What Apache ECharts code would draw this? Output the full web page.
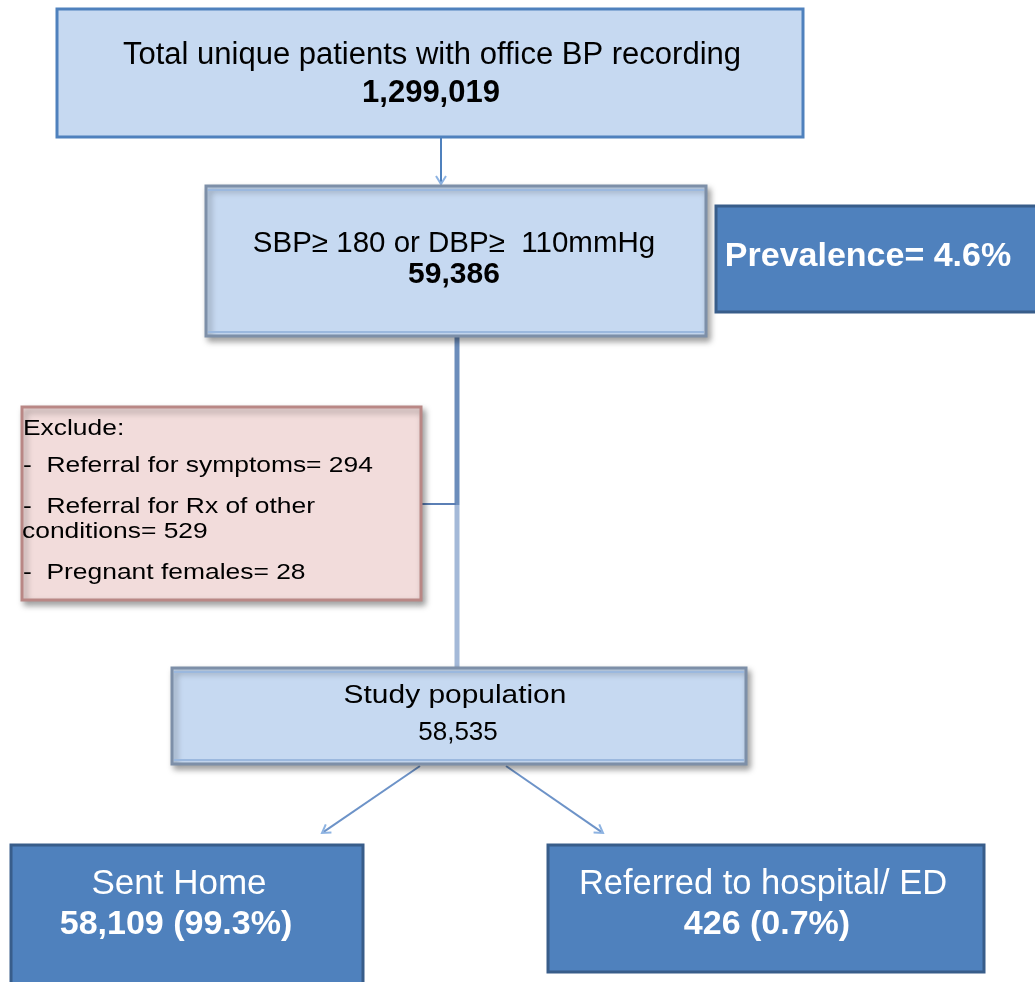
<!DOCTYPE html>
<html>
<head>
<meta charset="utf-8">
<script src="https://cdn.jsdelivr.net/npm/echarts@6/dist/echarts.min.js"></script>
<style>
  html, body { margin: 0; padding: 0; background: #fff; }
  #chart { width: 1035px; height: 982px; }
</style>
</head>
<body>
<div id="chart"></div>
<script>
// flow stages, top to bottom
const stageLabels = [
    'Total unique patients with office BP recording',
    'SBP\u2265 180 or DBP\u2265  110mmHg',
    'Study population',
    'Sent Home',
    'Referred to hospital/ ED'
];
const stageCounts = [1299019, 59386, 58535, 58109, 426];

// excluded between stage 2 and study population
const exclusionLabels = ['Referral for symptoms', 'Referral for Rx of other\nconditions', 'Pregnant females'];
const exclusionCounts = [294, 529, 28];

const FONT = '"Liberation Sans", Arial, sans-serif';
const LIGHT = '#c6d9f1', DARK = '#4f81bd', DARK_EDGE = '#385d8a';

let fmt = function (n) { return n.toLocaleString('en-US'); };
let pct = function (a, b) { return (a / b * 100).toFixed(1) + '%'; };

let rect = function (x, y, w, h, fill, stroke, shadow) {
    let style = { fill: fill, stroke: stroke, lineWidth: 3 };
    if (shadow) {
        style.shadowBlur = 6;
        style.shadowOffsetX = 3;
        style.shadowOffsetY = 4;
        style.shadowColor = 'rgba(0,0,0,0.35)';
    }
    return { type: 'rect', shape: { x: x, y: y, width: w, height: h }, style: style };
};

let txt = function (x, y, str, size, opts) {
    opts = opts || {};
    return {
        type: 'text', x: x, y: y,
        scaleX: opts.sx || 1,
        style: {
            text: str,
            fill: opts.color || '#000',
            font: (opts.bold ? 'bold ' : '') + size + 'px ' + FONT,
            textAlign: opts.align || 'center',
            textVerticalAlign: 'middle'
        },
        z: 10
    };
};

let line = function (x1, y1, x2, y2, color, width) {
    return { type: 'line', shape: { x1: x1, y1: y1, x2: x2, y2: y2 }, style: { stroke: color, lineWidth: width } };
};

// line with a small open arrow head at the end
let arrow = function (x1, y1, x2, y2, color, headColor) {
    let len = Math.sqrt((x2 - x1) * (x2 - x1) + (y2 - y1) * (y2 - y1));
    let dx = (x2 - x1) / len, dy = (y2 - y1) / len;
    let bx = x2 - dx * 8, by = y2 - dy * 8;
    return [
        line(x1, y1, x2 - dx * 2, y2 - dy * 2, color, 2),
        {
            type: 'polyline',
            shape: { points: [[bx - dy * 5, by + dx * 5], [x2, y2], [bx + dy * 5, by - dx * 5]] },
            style: { stroke: headColor, lineWidth: 2, fill: null }
        }
    ];
};

let graphic = [];

// connectors first so boxes cover their ends
graphic = graphic.concat(arrow(441, 138, 441, 184, DARK, '#8db3e2'));
graphic.push(line(457, 337, 457, 505, '#6c8dbb', 5));
graphic.push(line(457, 505, 457, 668, '#a4b9d8', 5));
graphic.push(line(421, 504, 456, 504, '#5b7fb5', 2));
graphic = graphic.concat(arrow(420, 766, 322, 833, '#6d93c8', '#8db3e2'));
graphic = graphic.concat(arrow(506, 766, 603, 833, '#6d93c8', '#8db3e2'));

// stage 1
graphic.push(rect(57, 9, 746, 128, LIGHT, DARK));
graphic.push(txt(432, 55, stageLabels[0], 31));
graphic.push(txt(431, 93, fmt(stageCounts[0]), 31, { bold: true }));

// stage 2
graphic.push(rect(206, 186, 500, 150, LIGHT, '#7d8fa8', true));
graphic.push(line(208, 190, 704, 190, '#9bb8de', 2));
graphic.push(line(208, 332, 704, 332, '#9bb8de', 2));
graphic.push(txt(454, 244, stageLabels[1], 29.5));
graphic.push(txt(454, 275, fmt(stageCounts[1]), 30, { bold: true }));

// prevalence
graphic.push(rect(716, 206, 340, 106, DARK, DARK_EDGE));
graphic.push(txt(868, 257, 'Prevalence= ' + pct(stageCounts[1], stageCounts[0]), 34, { bold: true, color: '#fff' }));

// exclusions
graphic.push(rect(22, 407, 399, 193, '#f2dcdb', '#b98785', true));
let exLines = ['Exclude:'];
exclusionLabels.forEach(function (lab, i) {
    let parts = (lab + '= ' + exclusionCounts[i]).split('\n');
    exLines.push('-  ' + parts[0]);
    if (parts[1]) exLines.push(parts[1]);
});
let exMid = [429, 466, 507, 532, 573];
exLines.forEach(function (s, i) {
    graphic.push(txt(i === 3 ? 22 : 23, exMid[i], s, 22, { align: 'left', sx: 1.2 }));
});

// study population
graphic.push(rect(172, 668, 574, 96, LIGHT, '#7d8fa8', true));
graphic.push(line(174, 672, 744, 672, '#9bb8de', 2));
graphic.push(line(174, 760, 744, 760, '#9bb8de', 2));
graphic.push(txt(455, 696, stageLabels[2], 26, { sx: 1.15 }));
graphic.push(txt(458, 733, fmt(stageCounts[2]), 26));

// outcomes
graphic.push(rect(11, 845, 352, 160, DARK, DARK_EDGE));
graphic.push(txt(179, 884, stageLabels[3], 35, { color: '#fff' }));
graphic.push(txt(176, 925, fmt(stageCounts[3]) + ' (' + pct(stageCounts[3], stageCounts[2]) + ')', 34, { bold: true, color: '#fff' }));

graphic.push(rect(548, 845, 436, 127, DARK, DARK_EDGE));
graphic.push(txt(763, 884, stageLabels[4], 34.5, { color: '#fff' }));
graphic.push(txt(767, 925, fmt(stageCounts[4]) + ' (' + pct(stageCounts[4], stageCounts[2]) + ')', 34, { bold: true, color: '#fff' }));

const chart = echarts.init(document.getElementById('chart'), null, { renderer: 'canvas' });
chart.setOption({
    backgroundColor: '#fff',
    animation: false,
    graphic: graphic
});
</script>
</body>
</html>
